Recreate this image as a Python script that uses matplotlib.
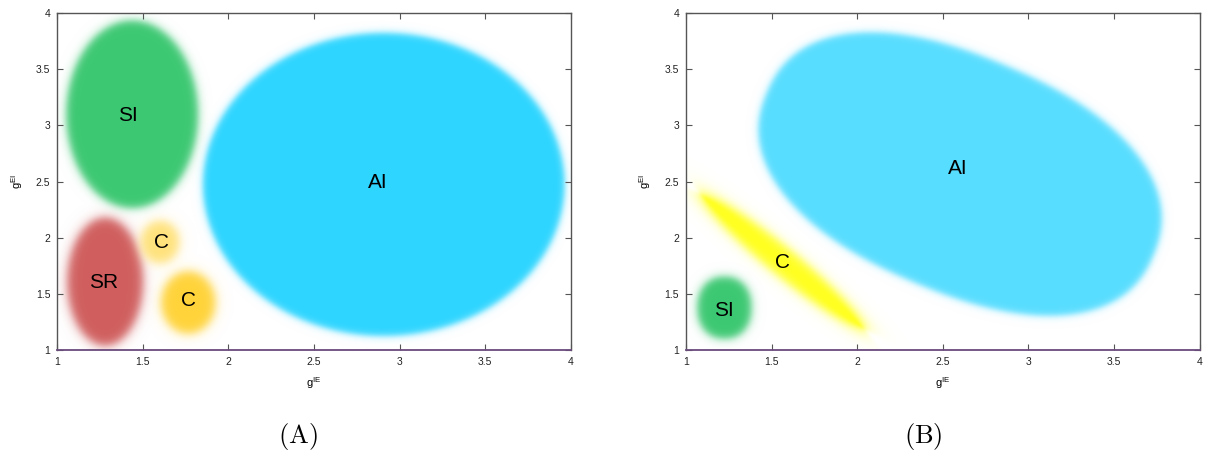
import numpy as np
import matplotlib
matplotlib.use("Agg")
import matplotlib.pyplot as plt
from matplotlib.colors import to_rgb

plt.rcParams['font.family'] = ['Liberation Sans', 'DejaVu Sans']
plt.rcParams['mathtext.default'] = 'regular'

# regions of the (gIE, gEI) plane, one set per panel
# centre in data units, semi-axes in pixels, tilt in degrees, edge softness in pixels,
# shape exponent (2 = ellipse)
a_names = ['SI', 'SR', 'C', 'C', 'AI']
a_cx = [1.437, 1.279, 1.60, 1.765, 2.908]
a_cy = [3.10, 1.606, 1.96, 1.42, 2.474]
a_rx = [66, 38, 19, 27, 181]
a_ry = [94, 64, 21, 31, 152]
a_tilt = [0, 0, 0, 0, 0]
a_soft = [5, 6, 6, 6, 4]
a_shape = [2, 2, 2, 2, 2]
a_colors = ['#3cc872', '#d05e5e', '#ffe27c', '#ffd339', '#2dd5ff']
a_lx = [1.414, 1.273, 1.61, 1.765, 2.87]
a_ly = [3.09, 1.605, 1.96, 1.445, 2.49]

b_names = ['AI', 'C', 'SI']
b_cx = [2.60, 1.562, 1.222]
b_cy = [2.567, 1.785, 1.374]
b_rx = [210, 106, 27]
b_ry = [118, 14, 31]
b_tilt = [-23, -39.5, 0]
b_soft = [4, 6, 5]
b_shape = [2.3, 2, 2.2]
b_colors = ['#57ddff', '#ffff22', '#3cc872']
b_lx = [2.588, 1.566, 1.222]
b_ly = [2.62, 1.78, 1.356]

ticks = [1, 1.5, 2, 2.5, 3, 3.5, 4]
tick_labels = ['1', '1.5', '2', '2.5', '3', '3.5', '4']

W, H = 1207, 455
fig = plt.figure(figsize=(W / 100, H / 100), dpi=100)
ax_a = fig.add_axes([57.3 / W, 105 / H, 513.5 / W, 337 / H])
ax_b = fig.add_axes([686 / W, 105 / H, 513.5 / W, 337 / H])


def blob_image(ax, cx, cy, rx, ry, tilt, soft, shape, colors):
    # pixels per data unit along each axis
    p0, p1 = ax.transData.transform([[1, 1], [2, 2]])
    sx, sy = p1 - p0
    nx, ny = int(round(3 * sx)), int(round(3 * sy))
    gx = np.linspace(1, 4, nx)
    gy = np.linspace(1, 4, ny)
    X, Y = np.meshgrid(gx, gy)
    hx = (gx[1] - gx[0]) * sx
    hy = (gy[1] - gy[0]) * sy
    img = np.ones((ny, nx, 3))
    for i in range(len(cx)):
        dx = (X - cx[i]) * sx
        dy = (Y - cy[i]) * sy
        t = np.deg2rad(tilt[i])
        u = dx * np.cos(t) + dy * np.sin(t)
        v = -dx * np.sin(t) + dy * np.cos(t)
        p = shape[i]
        r = (np.abs(u / rx[i]) ** p + np.abs(v / ry[i]) ** p) ** (1 / p)
        gr_y, gr_x = np.gradient(r, hy, hx)
        grad = np.sqrt(gr_x ** 2 + gr_y ** 2) + 1e-9
        d = (r - 1) / grad
        alpha = 0.5 * (1 - np.tanh(d / soft[i]))
        alpha[alpha < 0.002] = 0
        col = np.array(to_rgb(colors[i]))
        img = img * (1 - alpha[..., None]) + col * alpha[..., None]
    return img


def setup(ax, cx, cy, rx, ry, tilt, soft, shape, colors, names, lx, ly):
    ax.set_xlim(1, 4)
    ax.set_ylim(1, 4)
    img = blob_image(ax, cx, cy, rx, ry, tilt, soft, shape, colors)
    ax.imshow(img, extent=[1, 4, 1, 4], origin='lower', aspect='auto',
              interpolation='bilinear', zorder=0)
    for name, x, y in zip(names, lx, ly):
        ax.text(x, y, name, fontsize=15, ha='center', va='center', color='black')
    ax.set_xticks(ticks)
    ax.set_yticks(ticks)
    ax.set_xticklabels(tick_labels)
    ax.set_yticklabels(tick_labels)
    ax.tick_params(direction='in', length=4, width=0.8, color='#555555',
                   top=True, right=True, labelsize=7.5, labelcolor='#222222', pad=5)
    for side in ['left', 'top', 'right']:
        ax.spines[side].set_color('#555555')
        ax.spines[side].set_linewidth(1.0)
    ax.spines['bottom'].set_color('#6a4a7c')
    ax.spines['bottom'].set_linewidth(1.3)
    ax.set_xlabel('g$^{IE}$', fontsize=8, labelpad=6)
    ax.set_ylabel('g$^{EI}$', fontsize=8, labelpad=8)


setup(ax_a, a_cx, a_cy, a_rx, a_ry, a_tilt, a_soft, a_shape, a_colors, a_names, a_lx, a_ly)
setup(ax_b, b_cx, b_cy, b_rx, b_ry, b_tilt, b_soft, b_shape, b_colors, b_names, b_lx, b_ly)

plt.rcParams['mathtext.fontset'] = 'cm'
fig.text(298 / W, 1 - 437 / H, r'$\mathrm{(A)}$', fontsize=19, ha='center', va='center')
fig.text(923 / W, 1 - 437 / H, r'$\mathrm{(B)}$', fontsize=19, ha='center', va='center')

fig.savefig('out.png', dpi=100)
